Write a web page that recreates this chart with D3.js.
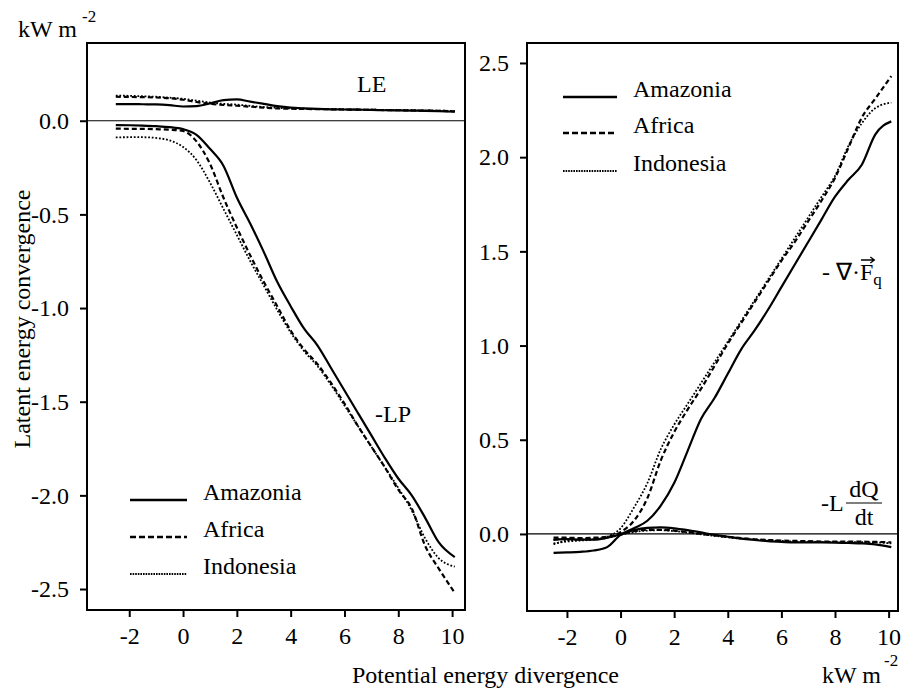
<!DOCTYPE html>
<html><head><meta charset="utf-8">
<script src="https://cdn.jsdelivr.net/npm/d3@7"></script>
<style>
html,body{margin:0;padding:0;background:#fff;}
svg text{font-family:"Liberation Serif","Times New Roman",serif;fill:#000;}
</style></head>
<body><svg id="c" width="905" height="689"></svg>
<script>
// ---------- data ----------
const xGrid = [-2.5,-2,-1.5,-1,-0.5,0,0.5,1,1.5,2,2.5,3,3.5,4,4.5,5,5.5,6,6.5,7,7.5,8,8.5,9,9.5,10.1];
const regions = ["Amazonia","Africa","Indonesia"];

// left panel: LE
const LE_Amazonia  = [0.089,0.089,0.088,0.087,0.083,0.076,0.078,0.092,0.110,0.114,0.102,0.090,0.078,0.070,0.066,0.063,0.061,0.060,0.059,0.058,0.056,0.055,0.054,0.053,0.051,0.048];
const LE_Africa    = [0.128,0.127,0.126,0.124,0.120,0.112,0.100,0.090,0.084,0.080,0.075,0.070,0.066,0.064,0.063,0.062,0.061,0.060,0.059,0.058,0.057,0.056,0.055,0.054,0.053,0.050];
const LE_Indonesia = [0.134,0.133,0.131,0.128,0.123,0.117,0.107,0.097,0.090,0.086,0.079,0.073,0.069,0.066,0.064,0.063,0.062,0.061,0.060,0.059,0.058,0.057,0.056,0.055,0.054,0.052];
// left panel: -LP
const LP_Amazonia  = [-0.023,-0.024,-0.026,-0.029,-0.034,-0.045,-0.075,-0.15,-0.24,-0.41,-0.55,-0.70,-0.86,-0.99,-1.11,-1.20,-1.32,-1.44,-1.56,-1.68,-1.80,-1.91,-2.00,-2.12,-2.25,-2.33];
const LP_Africa    = [-0.042,-0.043,-0.043,-0.045,-0.048,-0.055,-0.11,-0.23,-0.41,-0.57,-0.72,-0.86,-0.99,-1.12,-1.22,-1.30,-1.40,-1.51,-1.63,-1.74,-1.85,-1.97,-2.07,-2.27,-2.39,-2.52];
const LP_Indonesia = [-0.089,-0.088,-0.088,-0.092,-0.105,-0.14,-0.21,-0.33,-0.47,-0.61,-0.75,-0.88,-1.01,-1.13,-1.23,-1.31,-1.41,-1.52,-1.63,-1.74,-1.85,-1.96,-2.08,-2.23,-2.335,-2.38];
// right panel: -div Fq
const FQ_Amazonia  = [-0.100,-0.098,-0.095,-0.088,-0.070,-0.005,0.030,0.070,0.150,0.270,0.440,0.610,0.720,0.850,0.980,1.080,1.190,1.310,1.430,1.550,1.670,1.790,1.880,1.960,2.120,2.190];
const FQ_Africa    = [-0.032,-0.025,-0.028,-0.025,-0.020,0.010,0.070,0.190,0.390,0.540,0.660,0.770,0.890,1.010,1.120,1.230,1.340,1.450,1.550,1.660,1.770,1.890,2.050,2.210,2.310,2.430];
const FQ_Indonesia = [-0.050,-0.040,-0.035,-0.030,-0.015,0.030,0.140,0.270,0.450,0.580,0.690,0.800,0.910,1.020,1.130,1.240,1.350,1.460,1.570,1.680,1.790,1.900,2.060,2.180,2.260,2.290];
// right panel: -L dQ/dt
const DQ_Amazonia  = [-0.030,-0.028,-0.030,-0.030,-0.020,-0.003,0.020,0.032,0.035,0.030,0.020,0.008,-0.005,-0.015,-0.025,-0.032,-0.038,-0.042,-0.045,-0.045,-0.045,-0.046,-0.048,-0.050,-0.055,-0.070];
const DQ_Africa    = [-0.020,-0.020,-0.022,-0.020,-0.015,0.000,0.015,0.022,0.022,0.018,0.010,0.000,-0.008,-0.015,-0.022,-0.028,-0.032,-0.035,-0.037,-0.038,-0.040,-0.040,-0.040,-0.041,-0.042,-0.045];
const DQ_Indonesia = [-0.055,-0.035,-0.030,-0.028,-0.020,-0.005,0.010,0.018,0.020,0.015,0.008,-0.002,-0.010,-0.018,-0.025,-0.030,-0.034,-0.037,-0.040,-0.041,-0.042,-0.043,-0.043,-0.044,-0.045,-0.050];

const xTicks = [-2,0,2,4,6,8,10];
const xTickLabels = ["-2","0","2","4","6","8","10"];
const yTicksL = [0,-0.5,-1,-1.5,-2,-2.5];
const yTickLabelsL = ["0.0","-0.5","-1.0","-1.5","-2.0","-2.5"];
const yTicksR = [0,0.5,1,1.5,2,2.5];
const yTickLabelsR = ["0.0","0.5","1.0","1.5","2.0","2.5"];

// ---------- styles ----------
const styles = {
  Amazonia:  {w:2.2, dash:null},
  Africa:    {w:2.2, dash:"5,3"},
  Indonesia: {w:1.8, dash:"1.8,1.8"}
};
const FS = 24;
const svg = d3.select("#c");

function panel(cfg){
  const x = d3.scaleLinear().domain(cfg.xd).range([cfg.x0, cfg.x1]);
  const y = d3.scaleLinear().domain(cfg.yd).range([cfg.y0, cfg.y1]);
  const g = svg.append("g");
  g.append("line").attr("x1",cfg.x0).attr("x2",cfg.x1).attr("y1",y(0)).attr("y2",y(0))
    .attr("stroke","#000").attr("stroke-width",1.2);
  const line = d3.line().x(d=>x(d[0])).y(d=>y(d[1])).curve(d3.curveMonotoneX);
  cfg.series.forEach(s=>{
    const st = styles[s.region];
    g.append("path").datum(xGrid.map((xv,i)=>[xv,s.values[i]]))
      .attr("d",line).attr("fill","none").attr("stroke","#000")
      .attr("stroke-width",st.w).attr("stroke-dasharray",st.dash)
      .attr("stroke-linejoin","round");
  });
  g.append("rect").attr("x",cfg.x0).attr("y",cfg.y1).attr("width",cfg.x1-cfg.x0).attr("height",cfg.y0-cfg.y1)
    .attr("fill","none").attr("stroke","#000").attr("stroke-width",2);
  const ax = g.append("g").attr("transform",`translate(0,${cfg.y0})`)
    .call(d3.axisBottom(x).tickValues(xTicks).tickFormat((d,i)=>xTickLabels[i]).tickSize(7).tickPadding(10));
  const ay = g.append("g").attr("transform",`translate(${cfg.x0},0)`)
    .call(d3.axisLeft(y).tickValues(cfg.yt).tickFormat((d,i)=>cfg.ytl[i]).tickSize(7).tickPadding(11));
  [ax,ay].forEach(a=>{
    a.select(".domain").remove();
    a.selectAll("line").attr("stroke","#000").attr("stroke-width",2);
    a.selectAll("text").attr("font-size",FS).attr("font-family","Liberation Serif");
  });
  return {x,y,g};
}

panel({x0:87,x1:465,y0:610,y1:43,xd:[-3.57,10.48],yd:[-2.612,0.415],
  yt:yTicksL, ytl:yTickLabelsL,
  series:[
    {region:"Amazonia",values:LE_Amazonia},{region:"Africa",values:LE_Africa},{region:"Indonesia",values:LE_Indonesia},
    {region:"Amazonia",values:LP_Amazonia},{region:"Africa",values:LP_Africa},{region:"Indonesia",values:LP_Indonesia}]});
panel({x0:527,x1:898,y0:611,y1:43,xd:[-3.49,10.35],yd:[-0.409,2.606],
  yt:yTicksR, ytl:yTickLabelsR,
  series:[
    {region:"Amazonia",values:FQ_Amazonia},{region:"Africa",values:FQ_Africa},{region:"Indonesia",values:FQ_Indonesia},
    {region:"Amazonia",values:DQ_Amazonia},{region:"Africa",values:DQ_Africa},{region:"Indonesia",values:DQ_Indonesia}]});

function legend(lx, tx, ys){
  regions.forEach((r,i)=>{
    svg.append("line").attr("x1",lx[0]).attr("x2",lx[1]).attr("y1",ys[i]).attr("y2",ys[i])
      .attr("stroke","#000").attr("stroke-width",i===2?2:2.5)
      .attr("stroke-dasharray", i===0?null:(i===1?"6,3":"1.6,1"));
    svg.append("text").attr("x",tx).attr("y",ys[i]).attr("font-size",FS).text(r);
  });
}
legend([130,187],203,[500,537,574]);
legend([563,617],633,[97,133,171]);

function unit(x,y,sx,sy){
  svg.append("text").attr("x",x).attr("y",y).attr("font-size",FS).text("kW m");
  svg.append("text").attr("x",sx).attr("y",sy).attr("font-size",17).text("-2");
}
unit(18,37,82,22);
unit(822,683,884,666);

svg.append("text").attr("x",352).attr("y",683).attr("font-size",FS).text("Potential energy divergence");
svg.append("text").attr("transform","translate(30,319) rotate(-90)").attr("text-anchor","middle")
  .attr("font-size",FS).text("Latent energy convergence");

svg.append("text").attr("x",357).attr("y",92).attr("font-size",FS).text("LE");
svg.append("text").attr("x",375).attr("y",422).attr("font-size",FS).text("-LP");

// - div(F_q) label with vector arrow drawn over the F
const fq = svg.append("text").attr("x",822).attr("y",280).attr("font-size",FS);
fq.append("tspan").text("- \u2207\u00B7F");
fq.append("tspan").attr("font-size",17).attr("dy",5).text("q");
const fExt = fq.node().getExtentOfChar(4);
const ax0 = fExt.x + 1, ax1 = fExt.x + fExt.width + 1, ay0 = fExt.y + 1;
svg.append("path")
  .attr("d",`M${ax0},${ay0}L${ax1},${ay0}M${ax1-4},${ay0-3}L${ax1},${ay0}L${ax1-4},${ay0+3}`)
  .attr("fill","none").attr("stroke","#000").attr("stroke-width",1.3);

svg.append("text").attr("x",821).attr("y",511).attr("font-size",FS).text("-L");
svg.append("line").attr("x1",846).attr("x2",882).attr("y1",503).attr("y2",503).attr("stroke","#000").attr("stroke-width",1.2);
svg.append("text").attr("x",864).attr("y",497).attr("text-anchor","middle").attr("font-size",FS).text("dQ");
svg.append("text").attr("x",864).attr("y",525).attr("text-anchor","middle").attr("font-size",FS).text("dt");
</script></body></html>
